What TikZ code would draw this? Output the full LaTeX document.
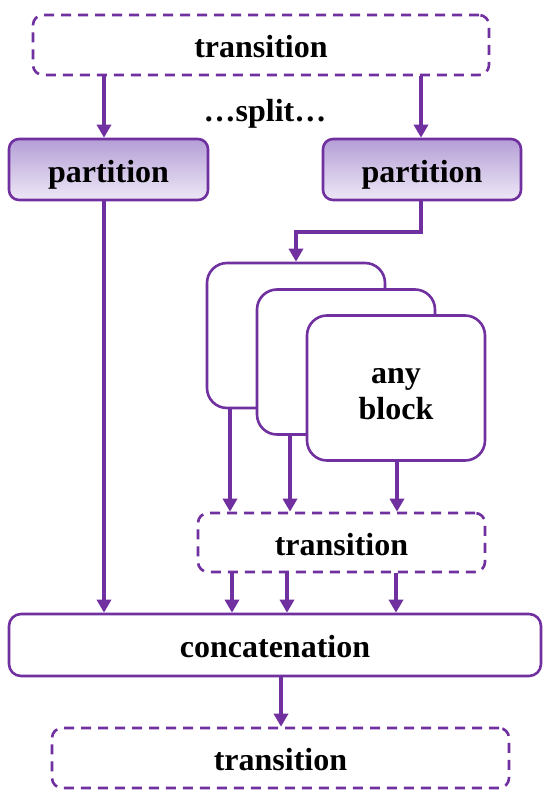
\documentclass[tikz,border=0pt]{standalone}
\usepackage{fontspec}
\setmainfont{Liberation Serif}
\usetikzlibrary{arrows.meta}
\definecolor{pur}{RGB}{112,48,160}
\definecolor{ptop}{RGB}{180,158,214}
\definecolor{pbot}{RGB}{238,232,246}
\begin{document}
\begin{tikzpicture}[x=1pt,y=-1pt,
  lbl/.style={font=\fontsize{32}{40}\selectfont\bfseries, text=black, align=center},
  box/.style={lbl, draw=pur, line width=2.6pt, rounded corners=10pt, inner sep=0pt, text height=25pt, text depth=0pt},
  dbox/.style={box, dash pattern=on 10pt off 7pt, fill=white},
  pbox/.style={box, top color=ptop, bottom color=pbot},
  blk/.style={box, fill=white, rounded corners=20pt, minimum width=178pt, minimum height=145pt},
  arr/.style={draw=pur, line width=3.6pt, -{Triangle[width=14pt,length=13pt]}}]
\useasboundingbox (0,0) rectangle (550,797);
\node[dbox, minimum width=456pt, minimum height=60pt] (t1) at (261,45) {transition};
\node[lbl] (split) at (265,114) {…split…};
\node[pbox, minimum width=199pt, minimum height=61pt] (pL) at (108.5,169.5) {partition};
\node[pbox, minimum width=198pt, minimum height=61pt] (pR) at (422,169.5) {partition};
\node[blk] (b1) at (296,335.5) {};
\node[blk] (b2) at (346,362) {};
\node[blk] (b3) at (396,388) {};
\node[lbl, inner sep=0pt] (b3t) at (396,394) {any\\[-4pt]block};
\node[dbox, minimum width=287pt, minimum height=59pt] (t2) at (341.5,542.5) {transition};
\node[box, rounded corners=12pt, fill=white, minimum width=532pt, minimum height=62pt] (cc) at (275,645) {concatenation};
\node[dbox, minimum width=457pt, minimum height=60pt] (t3) at (280.5,758) {transition};
\coordinate (xL) at (104,0);
\coordinate (xR) at (421,0);
\coordinate (bend) at (421,232);
\coordinate (bend2) at (296,232);
\draw[arr] (t1.south -| xL) -- (pL.north -| xL);
\draw[arr] (t1.south -| xR) -- (pR.north -| xR);
\draw[arr] (pL.south -| xL) -- (cc.north -| xL);
\draw[arr] (pR.south -| xR) -- (bend) -- (bend2) -- (b1.north);
\coordinate (a1) at (230,0);
\coordinate (a2) at (290,0);
\coordinate (a3) at (397,0);
\draw[arr] (b1.south -| a1) -- (t2.north -| a1);
\draw[arr] (b2.south -| a2) -- (t2.north -| a2);
\draw[arr] (b3.south -| a3) -- (t2.north -| a3);
\coordinate (c1) at (232,0);
\coordinate (c2) at (287,0);
\coordinate (c3) at (396,0);
\draw[arr] (t2.south -| c1) -- (cc.north -| c1);
\draw[arr] (t2.south -| c2) -- (cc.north -| c2);
\draw[arr] (t2.south -| c3) -- (cc.north -| c3);
\coordinate (d1) at (281,0);
\draw[arr] (cc.south -| d1) -- (t3.north -| d1);
\end{tikzpicture}
\end{document}
